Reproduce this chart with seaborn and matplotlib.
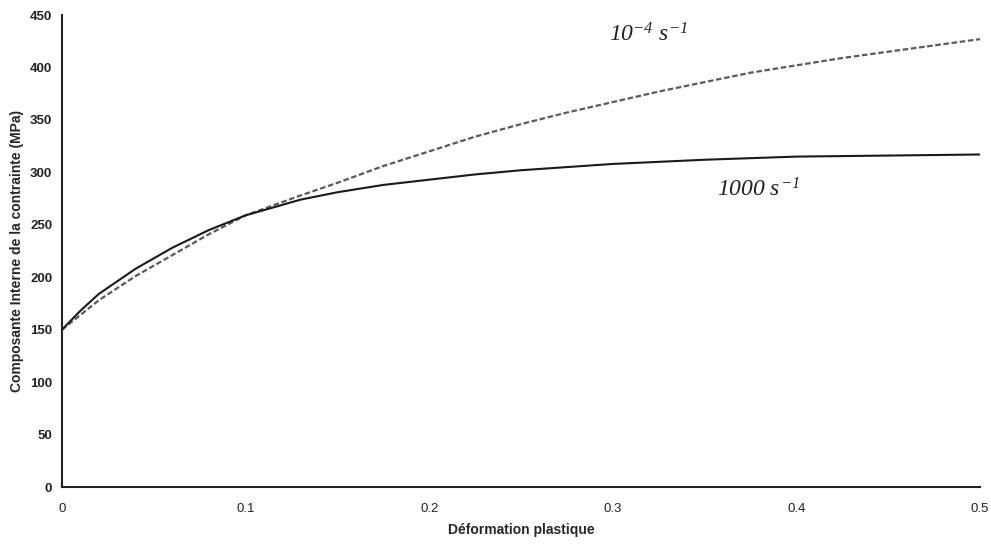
import numpy as np
import pandas as pd
import matplotlib
matplotlib.use("Agg")
import matplotlib.pyplot as plt
import seaborn as sns

# plastic strain (x) and internal stress component (MPa)
strain_fast = [0.0, 0.01, 0.02, 0.04, 0.06, 0.08, 0.10, 0.13, 0.15, 0.175, 0.20, 0.225, 0.25, 0.30, 0.35, 0.40, 0.45, 0.50]
stress_fast = [150, 168, 184, 208, 228, 245, 259, 274, 281, 288, 293, 298, 302, 308, 312, 315, 316, 317]

strain_slow = [0.0, 0.02, 0.04, 0.06, 0.08, 0.10, 0.13, 0.15, 0.175, 0.20, 0.225, 0.25, 0.275, 0.30, 0.325,
               0.35, 0.375, 0.40, 0.425, 0.45, 0.475, 0.50]
stress_slow = [150, 178, 201, 221, 241, 259, 278, 290, 306, 320, 334, 346, 357, 367, 377,
               386, 395, 402, 409, 415, 421, 427]

x_ticks = [0, 0.1, 0.2, 0.3, 0.4, 0.5]
x_tick_labels = ["0", "0.1", "0.2", "0.3", "0.4", "0.5"]
y_ticks = [0, 50, 100, 150, 200, 250, 300, 350, 400, 450]

sns.set_style("white")
plt.rcParams["font.family"] = ["Liberation Sans Narrow", "Liberation Sans", "DejaVu Sans"]
plt.rcParams["mathtext.fontset"] = "custom"
plt.rcParams["mathtext.rm"] = "Liberation Serif:italic"
plt.rcParams["mathtext.it"] = "Liberation Serif:italic"

fast = pd.DataFrame({"strain": strain_fast, "stress": stress_fast})
slow = pd.DataFrame({"strain": strain_slow, "stress": stress_slow})

fig = plt.figure(figsize=(9.91, 5.44), dpi=100)
ax = fig.add_axes([62 / 991, 1 - 487 / 544, 918 / 991, 472 / 544])

sns.lineplot(data=slow, x="strain", y="stress", ax=ax, color="#5a5a5a",
             linewidth=1.6, linestyle=(0, (2.5, 1.2)))
sns.lineplot(data=fast, x="strain", y="stress", ax=ax, color="#1a1a1a", linewidth=1.5)

ax.set_xlim(0, 0.5)
ax.set_ylim(0, 450)
ax.set_xticks(x_ticks)
ax.set_xticklabels(x_tick_labels)
ax.set_yticks(y_ticks)
ax.tick_params(direction="inout", length=7, width=1.2, color="#222222",
               labelsize=9.5, labelcolor="#222222")
for lab in ax.get_yticklabels():
    lab.set_fontweight("bold")
ax.tick_params(axis="x", pad=8, labelsize=9.5)

for side in ["top", "right"]:
    ax.spines[side].set_visible(False)
for side in ["left", "bottom"]:
    ax.spines[side].set_color("#222222")
    ax.spines[side].set_linewidth(1.5)

ax.set_xlabel("Déformation plastique", fontsize=10, fontweight="bold", labelpad=6)
ax.set_ylabel("Composante Interne de la contrainte (MPa)", fontsize=10, fontweight="bold", labelpad=4)

ax.text(0.298, 431, r"$10^{-4}\ s^{-1}$", fontsize=17, ha="left", va="center", color="#222222")
ax.text(0.357, 283, r"$1000\ s^{-1}$", fontsize=17, ha="left", va="center", color="#222222")

fig.savefig("out.png", dpi=100)
